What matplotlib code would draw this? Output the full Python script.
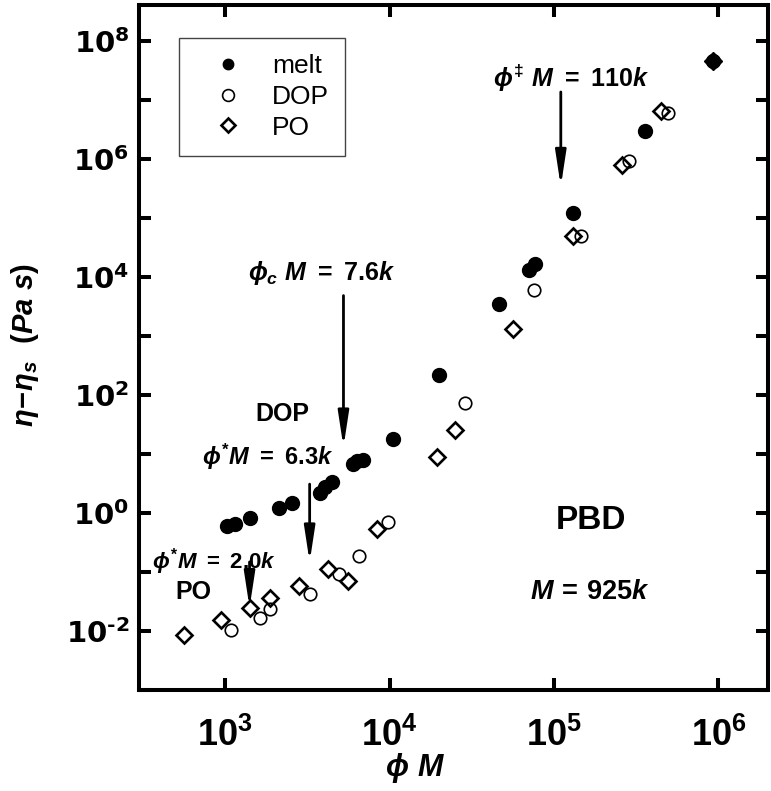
import matplotlib
matplotlib.use('Agg')
import matplotlib.pyplot as plt
from matplotlib.lines import Line2D

plt.rcParams['font.family'] = ['Liberation Sans', 'DejaVu Sans']
plt.rcParams['mathtext.fontset'] = 'custom'
plt.rcParams['mathtext.rm'] = 'Liberation Sans:bold'
plt.rcParams['mathtext.it'] = 'Liberation Sans:italic:bold'
plt.rcParams['mathtext.bf'] = 'Liberation Sans:bold'

# ---- data ----
melt_x = [1031, 1158, 1428, 2120, 2556, 3757, 4069, 4468, 6040, 6388, 6945,
          10560, 20070, 46400, 70540, 76380, 130400, 358400, 925000]
melt_y = [0.608, 0.650, 0.811, 1.20, 1.455, 2.17, 2.71, 3.29, 6.71, 7.63, 7.94,
          18.2, 214, 3530, 13240, 16720, 120300, 2.96e6, 4.5e7]

dop_x = [1087, 1626, 1875, 3299, 4898, 6541, 9848, 28730, 75310, 146600, 285000, 491200]
dop_y = [0.01023, 0.0166, 0.0238, 0.0427, 0.0929, 0.1835, 0.695, 74.1, 5920,
         49700, 9.2e5, 5.89e6]

po_x = [563, 939, 1414, 1880, 2818, 4242, 5633, 8375, 19570, 24990, 56400,
        130400, 259900, 448100]
po_y = [0.00843, 0.01552, 0.02427, 0.0356, 0.0589, 0.1143, 0.0716, 0.536, 8.71,
        25.4, 1318, 49700, 7.87e5, 6.44e6]

pure_x = [925000]
pure_y = [4.5e7]

legend_labels = ['melt', 'DOP', 'PO']

xticks = [1e3, 1e4, 1e5, 1e6]
xtick_labels = [r'$10^{3}$', r'$10^{4}$', r'$10^{5}$', r'$10^{6}$']
yticks = [10.0 ** k for k in range(-3, 9)]
ytick_labels = [(r'$\mathbf{10^{%d}}$' % k).replace('-', '\u2010') if k % 2 == 0 else ''
                for k in range(-3, 9)]

# arrows: (x, y_tail, y_tip)
arrows = [(1.1e5, 1.36e7, 3.39e5),
          (5.25e3, 4820, 13.0),
          (3.27e3, 3.08, 0.1466),
          (1.41e3, 0.148, 0.0248)]

# texts: (x, y, string, size)
notes = [(42460, 1.62e7, r'$\phi^{\ddagger}\ M\ =\ 110k$', 18),
         (1388, 8970, r'$\phi_{c}\ M\ =\ 7.6k$', 18),
         (728, 6.46, r'$\phi^{*}M\ =\ 6.3k$', 17),
         (362, 0.116, r'$\phi^{*}M\ =\ 2.0k$', 16)]
labels_plain = [(1531, 36.2, 'DOP', 18), (501, 0.0342, 'PO', 18)]

fig = plt.figure(figsize=(7.71, 7.91), dpi=100)
W, H = 771, 791
ax = fig.add_axes([139 / W, 1 - 690 / H, (768 - 139) / W, (690 - 5.3) / H])
ax.set_xscale('log')
ax.set_yscale('log')
ax.set_xlim(300, 2e6)
ax.set_ylim(1e-3, 4e8)

ax.plot(melt_x, melt_y, ls='none', marker='o', ms=10, mfc='k', mec='k', zorder=3)
ax.plot(pure_x, pure_y, ls='none', marker='D', ms=9, mfc='k', mec='k', zorder=3)
ax.plot(dop_x, dop_y, ls='none', marker='o', ms=9, mfc='none', mec='k', mew=1.2, zorder=3)
ax.plot(po_x, po_y, ls='none', marker='D', ms=8, mfc='none', mec='k', mew=1.9, zorder=3)

for sp in ax.spines.values():
    sp.set_linewidth(2.9)

ax.set_xticks(xticks)
ax.set_xticklabels(xtick_labels, fontsize=26)
ax.xaxis.set_minor_locator(matplotlib.ticker.NullLocator())
ax.set_yticks(yticks)
ax.set_yticklabels(ytick_labels, fontsize=21)
for t in ax.get_yticklabels():
    t.set_math_fontfamily('dejavusans')
ax.yaxis.set_minor_locator(matplotlib.ticker.NullLocator())
ax.set_ylim(1e-3, 4e8)
ax.tick_params(which='major', direction='in', length=8.6, width=2.9,
               top=True, right=True)
ax.tick_params(axis='x', pad=20)
ax.tick_params(axis='y', pad=7)

for x, yt, yh in arrows:
    ax.annotate('', xy=(x, yh), xytext=(x, yt),
                arrowprops=dict(arrowstyle='-|>,head_length=2.1,head_width=0.32',
                                lw=2.0, color='k', mutation_scale=10,
                                shrinkA=0, shrinkB=0))

for x, y, s, fs in notes:
    ax.text(x, y, s, fontsize=fs, ha='left', va='baseline')
for x, y, s, fs in labels_plain:
    ax.text(x, y, s, fontsize=fs, fontweight='bold', ha='left', va='baseline')

ax.text(1.669e5, 0.536, 'PBD', fontsize=24, fontweight='bold', ha='center', va='baseline')
ax.text(1.646e5, 0.0352, r'$M\,=\,925k$', fontsize=19.5, ha='center', va='baseline')

handles = [Line2D([], [], ls='none', marker='o', ms=7.5, mfc='k', mec='k'),
           Line2D([], [], ls='none', marker='o', ms=8.5, mfc='none', mec='k', mew=1.2),
           Line2D([], [], ls='none', marker='D', ms=7.5, mfc='none', mec='k', mew=1.9)]
leg = ax.legend(handles, legend_labels, loc='upper left',
                bbox_to_anchor=((179 - 139) / 629, 1 - (38 - 5.3) / 684.7),
                borderaxespad=0, fontsize=19, frameon=True, fancybox=False,
                edgecolor='#444444', framealpha=1, borderpad=0.62,
                handlelength=2.5, handletextpad=0.4, labelspacing=0.25)
leg.get_frame().set_linewidth(1.0)

fig.text(415 / W, 1 - 768 / H, r'$\phi\ M$', fontsize=22, ha='center', va='center')
fig.text(25 / W, 1 - 345 / H, r'$\eta\!-\!\eta_{s}\ \ (Pa\ s)$', fontsize=21,
         ha='center', va='center', rotation=90)

fig.savefig('out.png', dpi=100)
